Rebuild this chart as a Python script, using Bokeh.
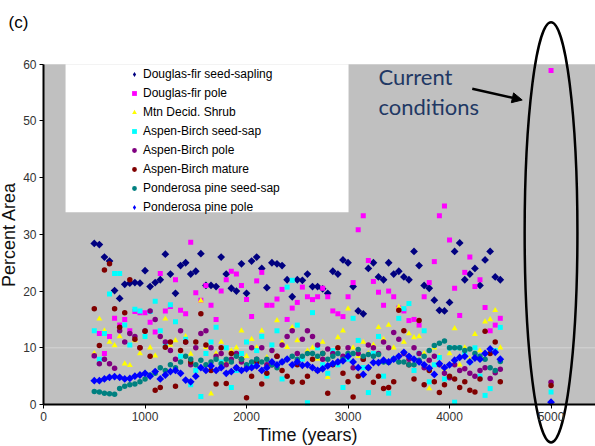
import math
from bokeh.plotting import figure
from bokeh.models import Legend, LegendItem, Label, Arrow, NormalHead, FixedTicker, Range1d
from bokeh.embed import file_html
from bokeh.resources import INLINE

NAN = float("nan")

# Simulation time steps (years) and the "current conditions" point
times = list(range(500, 4501, 50))
current_time = 5000

# Percent area per state class (one value per 50 years)
df_seed = [28.4, 28.2, 26.0, 25.3, 20.1, 18.7, 21.2, 21.4, 21.5, 21.4,
           23.6, 20.8, 21.5, 22.0, 26.5, 23.0, 19.6, 24.5, 25.0, 23.0,
           23.5, 26.6, 21.0, 21.0, 20.8, 26.0, 23.0, 20.5, 20.0, 24.8,
           19.6, 25.3, 26.0, 24.0, 20.6, 25.0, 24.8, 24.5, 22.0, 19.0,
           22.0, 21.9, 23.0, 20.8, 20.8, 20.4, 19.6, 23.5, 23.0, 25.5,
           25.0, 20.8, 16.5, 16.0, 24.0, 25.0, 22.5, 22.0, 25.0, 23.0,
           23.5, 22.5, 22.0, 27.0, 24.5, 21.0, 20.5, 18.4, 16.6, 16.5,
           18.0, 27.0, 28.5, 22.0, 23.0, 24.0, 21.0, 25.5, 27.0, 22.5,
           22.0]
df_pole = [8.6, 12.5, 9.0, 12.0, 15.2, 14.0, 15.0, 13.0, 16.4, 16.2,
           16.2, 14.5, 12.8, 23.1, 16.5, 17.3, 22.0, 16.6, 16.0, 28.6,
           19.7, 18.4, 21.0, 17.5, 15.0, 20.0, 22.0, 23.5, 23.0, 21.0,
           18.5, 15.5, 21.8, 23.3, 17.5, 17.5, 18.6, 20.3, 15.0, 17.0,
           18.0, 20.7, 19.0, 18.5, 19.0, 20.5, 19.0, 16.5, 16.0, 15.5,
           19.0, 21.5, 30.8, 33.3, 25.4, 21.7, 19.8, 17.5, 20.0, 19.0,
           17.0, 16.5, 14.8, 15.0, 14.0, 19.0, 21.5, 25.2, 33.3, 35.0,
           29.0, 20.5, 15.7, 23.3, 26.0, 20.8, 22.0, 17.1, 13.0, 14.0,
           15.2]
shrub = [9.0, 15.1, 13.0, 11.0, 10.4, 12.0, 7.2, 6.9, 11.3, 9.0,
         11.9, 10.0, 8.6, 12.0, 15.1, 10.5, 11.3, 9.5, 12.0, 8.9,
         10.0, 18.3, 10.1, 1.9, 9.0, 11.0, 7.5, 9.5, 10.0, 13.0,
         8.5, 11.5, 10.0, 13.0, 8.3, 9.5, 14.8, 11.0, 10.1, 13.6,
         11.3, 7.0, 9.5, 10.0, 8.0, 11.0, 4.8, 9.0, 11.8, 13.0,
         16.9, 10.0, 8.5, 11.0, 9.0, 10.5, 13.6, 11.5, 14.0, 10.0,
         17.2, 11.0, 12.5, 11.8, 12.0, 9.0, 2.8, 10.0, 8.5, 6.3,
         9.0, 13.4, 7.0, 10.0, 8.0, 12.4, 9.5, 14.6, 15.0, 16.6,
         10.0]
ab_seed = [13.0, 8.0, 12.5, 19.5, 23.1, 23.1, 14.0, 10.5, 16.8, 16.5,
           12.0, 16.4, 18.2, 13.0, 10.5, 17.6, 14.6, 8.5, 11.5, 3.5,
           6.0, 1.4, 9.0, 11.0, 13.6, 7.5, 10.0, 3.0, 6.0, 9.0,
           11.0, 7.0, 9.5, 12.0, 5.0, 10.5, 13.0, 4.5, 20.7, 21.9,
           14.0, 8.0, 0.3, 16.2, 10.0, 7.0, 5.5, 9.5, 7.0, 3.0,
           8.0, 15.2, 11.3, 6.5, 2.1, 9.0, 12.0, 5.0, 2.0, 8.0,
           15.2, 16.9, 17.8, 6.0, 9.0, 13.0, 4.0, 7.0, 8.3, 4.5,
           10.0, 0.4, 10.0, 9.0, 7.5, 10.0, 5.0, 1.6, 2.8, 9.5,
           13.6]
ab_pole = [8.6, 7.2, 8.0, 7.2, 6.4, 13.0, 11.0, 12.5, 12.0, 10.0,
           13.0, 16.5, 15.0, 12.0, 11.0, 9.5, 8.0, 13.0, 11.0, 7.0,
           10.0, 12.5, 13.0, 10.0, 8.5, 9.0, 7.0, 8.0, 9.0, 7.5,
           6.5, 10.0, 8.0, 10.0, 7.0, 9.5, 8.5, 10.5, 12.0, 13.0,
           9.0, 11.5, 13.0, 12.0, 10.5, 8.0, 9.8, 9.0, 7.5, 8.5,
           10.0, 6.5, 9.0, 8.0, 10.5, 10.0, 9.0, 11.0, 10.0, 12.7,
           11.5, 9.0, 8.0, 10.0, 9.0, 6.5, 7.8, 8.5, 7.0, 5.5,
           4.7, 7.0, 6.0, 6.3, 5.5, 5.0, 6.0, 6.5, 4.6, 5.6,
           6.2]
ab_mature = [16.9, 10.4, 23.7, 24.8, 16.9, 13.6, 16.2, 22.0, 11.5, 10.0,
             12.9, 8.5, 2.5, 3.0, 10.1, 11.0, 3.2, 9.5, 11.0, 7.5,
             11.0, 16.0, 10.5, 6.0, 3.6, 10.0, 3.7, 9.0, 6.5, 8.0,
             1.2, 5.0, 7.5, 3.6, 5.5, 7.0, 8.5, 6.0, 5.0, 4.0,
             7.0, 3.9, 5.0, 8.0, 6.0, 9.0, 2.0, 7.0, 10.0, 5.5,
             4.0, 1.3, 5.0, 8.0, 6.5, 3.9, 5.0, 2.8, 3.0, 4.0,
             16.6, 13.0, 7.0, 4.5, 14.8, 3.5, 6.0, 4.0, 2.1, 3.5,
             5.0, 4.5, 3.0, 4.0, 2.5, 2.2, 4.5, 12.9, 9.0, 11.0,
             4.0]
pp_seed = [2.3, 2.2, 2.0, 1.9, 1.8, 2.8, 3.2, 3.5, 3.6, 4.0,
           4.5, 5.2, 5.5, 6.5, 6.0, 7.0, 6.5, 7.5, 8.5, 8.0,
           7.0, 7.8, 7.0, 7.5, 8.0, 7.2, 8.0, 7.5, 8.5, 8.0,
           7.0, 7.5, 8.0, 7.5, 8.0, 7.0, 6.5, 7.5, 8.0, 8.5,
           8.0, 8.5, 9.0, 9.0, 8.5, 9.0, 8.0, 8.5, 9.0, 8.0,
           9.0, 9.0, 9.7, 8.5, 8.8, 8.5, 8.8, 7.5, 7.4, 8.0,
           7.5, 7.5, 7.0, 7.0, 7.8, 8.5, 9.5, 10.4, 10.8, 11.2,
           10.0, 10.0, 10.0, 9.5, 9.8, 9.0, 8.5, 8.0, 6.5, 6.0,
           7.6]
pp_pole = [4.2, 4.2, 4.5, 4.8, 4.9, 4.8, 4.5, 4.6, 5.0, 5.2,
           5.5, 5.0, 5.8, 4.5, 5.2, 5.8, 6.0, 5.5, 4.3, 4.0,
           5.0, 6.5, 6.0, 6.8, 6.0, 6.5, 5.5, 5.8, 6.5, 6.0,
           6.3, 6.5, 6.8, 6.0, 6.5, 7.5, 7.0, 7.5, 8.0, 7.0,
           7.5, 6.9, 7.0, 6.5, 6.0, 6.3, 6.8, 7.2, 7.5, 7.7,
           8.5, 7.5, 6.5, 5.3, 6.5, 7.4, 7.4, 7.8, 7.5, 8.0,
           8.5, 9.2, 8.5, 8.0, 7.5, 7.0, 6.4, 5.3, 7.2, 6.5,
           7.0, 7.8, 8.3, 8.5, 7.5, 8.2, 8.0, 9.0, 9.8, 9.2,
           8.0]

# Current conditions (year 5000); NaN where the class is not visible
current = {
    "Douglas-fir seed-sapling": NAN,
    "Douglas-fir pole": 58.9,
    "Mtn Decid. Shrub": NAN,
    "Aspen-Birch seed-sap": 2.2,
    "Aspen-Birch pole": 3.9,
    "Aspen-Birch mature": 3.35,
    "Ponderosa pine seed-sap": NAN,
    "Ponderosa pine pole": 0.4,
}

series = [
    ("Douglas-fir seed-sapling", df_seed, "diamond", "#000080", 5.5),
    ("Douglas-fir pole", df_pole, "square", "#FF00FF", 5),
    ("Mtn Decid. Shrub", shrub, "triangle", "#FFFF00", 6),
    ("Aspen-Birch seed-sap", ab_seed, "square", "#00FFFF", 5),
    ("Aspen-Birch pole", ab_pole, "circle", "#800080", 5.5),
    ("Aspen-Birch mature", ab_mature, "circle", "#800000", 5.5),
    ("Ponderosa pine seed-sap", pp_seed, "circle", "#008080", 5.5),
    ("Ponderosa pine pole", pp_pole, "diamond", "#0000FF", 5.5),
]

x_start, x_end = -424, 5438
p = figure(width=595, height=446,
           x_range=Range1d(x_start, x_end), y_range=Range1d(-7.41, 71.25),
           output_backend="svg", toolbar_location=None,
           min_border_left=0, min_border_right=0,
           min_border_top=0, min_border_bottom=0,
           background_fill_color="white", border_fill_color="white",
           outline_line_color=None)
p.grid.visible = False

# plot area (gray), faint line at 10 and the legend box (white)
p.quad(left=0, right=x_end, bottom=0, top=60, fill_color="#C0C0C0",
       line_color=None, level="underlay")
p.segment(x0=0, y0=10, x1=x_end, y1=10, line_color="#D4D4D4", line_width=1,
          level="underlay")
p.quad(left=217, right=3005, bottom=33.9, top=60, fill_color="white", line_color=None)

items = []
for name, vals, marker, color, size in series:
    xs = times + [current_time]
    ys = vals + [current[name]]
    if marker == "diamond":
        # data diamonds drawn as squares turned 45 degrees
        r = p.scatter(xs, ys, marker="square", angle=math.pi / 4, size=size,
                      fill_color=color, line_color=None)
        key = p.scatter([NAN], [NAN], marker="diamond", size=size,
                        fill_color=color, line_color=None)
    else:
        r = p.scatter(xs, ys, marker=marker, size=size, fill_color=color,
                      line_color=None)
        key = r
    items.append(LegendItem(label=name, renderers=[key]))

legend = Legend(items=items, location=(128, 230), orientation="vertical",
                glyph_width=12, glyph_height=18, label_height=18, spacing=1,
                padding=6, margin=0, label_standoff=3,
                background_fill_alpha=0, border_line_color=None,
                label_text_font="Liberation Sans", label_text_font_size="12px",
                label_text_color="black")
p.add_layout(legend)

# Axes
p.yaxis.bounds = (0, 60)
p.xaxis.bounds = (0, x_end)
p.yaxis.ticker = FixedTicker(ticks=[0, 10, 20, 30, 40, 50, 60])
p.xaxis.ticker = FixedTicker(ticks=[0, 1000, 2000, 3000, 4000, 5000])
p.xaxis.fixed_location = 0
p.yaxis.fixed_location = 0
for ax in (p.xaxis, p.yaxis):
    ax.axis_line_color = "black"
    ax.axis_line_width = 2
    ax.major_tick_out = 4
    ax.major_tick_in = 0
    ax.major_tick_line_color = "black"
    ax.minor_tick_out = 0
    ax.minor_tick_in = 0
    ax.major_label_text_font = "Liberation Sans"
    ax.major_label_text_font_size = "12px"
    ax.major_label_text_color = "#333333"
    ax.axis_label_text_font = "Liberation Sans"
    ax.axis_label_text_font_size = "18px"
    ax.axis_label_text_font_style = "normal"
    ax.axis_label_text_color = "#111111"
p.yaxis.axis_label = "Percent Area"
p.yaxis.major_label_standoff = 3
p.yaxis.axis_label_standoff = 1
p.xaxis.major_label_standoff = 4

# Annotations
p.add_layout(Label(x=2600, y=-5.45, text="Time (years)", text_align="center",
                   text_baseline="middle", text_font="Liberation Sans",
                   text_font_size="18px", text_color="#111111"))
p.ellipse(x=5000, y=30.35, width=520, height=74.1, fill_color=None,
          line_color="black", line_width=2.5)
p.add_layout(Arrow(end=NormalHead(size=10, fill_color="black", line_color="black"),
                   x_start=4224, y_start=55.7, x_end=4716, y_end=53.7,
                   line_width=2.5, line_color="black"))
p.add_layout(Label(x=3300, y=57.9, text="Current", text_baseline="middle",
                   text_font="Lato", text_font_size="22px", text_color="#1F3864"))
p.add_layout(Label(x=3300, y=52.6, text="conditions", text_baseline="middle",
                   text_font="Lato", text_font_size="22px", text_color="#1F3864"))
p.add_layout(Label(x=-345, y=69.1, text="(c)", text_baseline="top",
                   text_font="Liberation Sans", text_font_size="17px",
                   text_color="black"))

open("out.html", "w").write(file_html(p, INLINE))
